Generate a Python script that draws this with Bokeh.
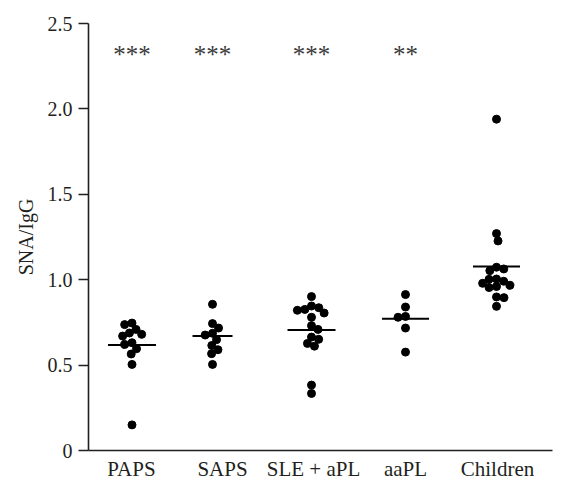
import math
from bokeh.plotting import figure
from bokeh.models import Range1d, FixedTicker, CustomJSTickFormatter, ColumnDataSource
from bokeh.embed import file_html
from bokeh.resources import INLINE
from bokeh.core.properties import value

# ---------------- data ----------------
categories = ["PAPS", "SAPS", "SLE + aPL", "aaPL", "Children"]
paps = [0.746, 0.737, 0.709, 0.688, 0.680, 0.670, 0.631, 0.621, 0.596, 0.565, 0.504, 0.150]
saps = [0.856, 0.743, 0.717, 0.686, 0.676, 0.649, 0.615, 0.590, 0.567, 0.504]
sle_apl = [0.901, 0.846, 0.836, 0.826, 0.821, 0.805, 0.780, 0.731, 0.709, 0.664,
           0.651, 0.627, 0.611, 0.383, 0.334]
aapl = [0.913, 0.840, 0.785, 0.780, 0.717, 0.576]
children = [1.940, 1.270, 1.227, 1.073, 1.063, 1.053, 1.004, 1.002, 0.991, 0.979,
            0.967, 0.960, 0.954, 0.899, 0.895, 0.844]
group_lines = [0.617, 0.670, 0.705, 0.772, 1.078]
significance = ["***", "***", "***", "**", ""]
y_ticks = [0, 0.5, 1.0, 1.5, 2.0, 2.5]

groups = [paps, saps, sle_apl, aapl, children]

# ---------------- layout ----------------
FRAME_W, FRAME_H = 464, 427
Y_MAX = 2.5
YS = FRAME_H / Y_MAX           # px per data unit
centers = [43.5, 124, 223, 317, 408]      # dot/line centres (x in px units)
label_pos = [43, 134, 225, 317, 409]      # tick label positions
line_half = [24, 20, 24, 23.5, 23.5]
SEP = 7.5
TEXT = "#231f20"
FONT = "Liberation Serif"


def swarm(vals, sep):
    order = sorted(range(len(vals)), key=lambda i: -vals[i])
    placed = []
    xs = [0.0] * len(vals)
    for k, i in enumerate(order):
        y = vals[i] * YS
        cands = [0.0]
        intervals = []
        for (px, py) in placed:
            dy = abs(y - py)
            if dy < sep:
                dx = math.sqrt(sep * sep - dy * dy)
                intervals.append((px - dx, px + dx))
                cands += [px - dx, px + dx]
        ok = [c for c in cands if all(not (a + 1e-6 < c < b - 1e-6) for a, b in intervals)]
        best = min(ok, key=lambda c: (round(abs(c), 3), c if k % 2 else -c))
        xs[i] = best
        placed.append((best, y))
    return xs


xs, ys = [], []
for c, vals in zip(centers, groups):
    offs = swarm(vals, SEP)
    xs += [c + o for o in offs]
    ys += list(vals)

p = figure(width=558, height=484, output_backend="svg", toolbar_location=None,
           x_range=Range1d(0, FRAME_W), y_range=Range1d(0, Y_MAX),
           min_border_left=88, min_border_right=6, min_border_top=23, min_border_bottom=34)
p.outline_line_color = None
p.grid.visible = False
p.background_fill_color = "white"

p.scatter(xs, ys, size=8, color="black")

lx0 = [c - h for c, h in zip(centers, line_half)]
lx1 = [c + h for c, h in zip(centers, line_half)]
p.segment(x0=lx0, y0=group_lines, x1=lx1, y1=group_lines, line_color="black", line_width=2)

star_src = ColumnDataSource(dict(x=centers, y=[2.318] * 5, t=significance))
p.text(x="x", y="y", text="t", source=star_src, text_font=value(FONT),
       text_font_size="25px", text_align="center", text_baseline="alphabetic",
       text_color="#3a3a3a")

# y axis
ya = p.yaxis[0]
ya.ticker = FixedTicker(ticks=y_ticks)
ya.formatter = CustomJSTickFormatter(code="return tick == 0 ? '0' : tick.toFixed(1);")
ya.major_tick_out = 10
ya.major_tick_in = 0
ya.minor_tick_line_color = None
ya.axis_line_width = 1.6
ya.major_tick_line_width = 1.6
ya.axis_line_color = TEXT
ya.major_tick_line_color = TEXT
ya.major_label_text_font = FONT
ya.major_label_text_font_size = "20px"
ya.major_label_text_color = TEXT
ya.major_label_standoff = 6
ya.axis_label = "SNA/IgG"
ya.axis_label_text_font = FONT
ya.axis_label_text_font_size = "20px"
ya.axis_label_text_font_style = "normal"
ya.axis_label_text_color = TEXT
ya.axis_label_standoff = 8

# x axis
xa = p.xaxis[0]
xa.ticker = FixedTicker(ticks=label_pos)
xa.major_label_overrides = {lp: c for lp, c in zip(label_pos, categories)}
xa.major_tick_out = 0
xa.major_tick_in = 0
xa.minor_tick_line_color = None
xa.axis_line_width = 1.6
xa.axis_line_color = TEXT
xa.major_label_text_font = FONT
xa.major_label_text_font_size = "21px"
xa.major_label_text_color = TEXT
xa.major_label_standoff = 6

open("out.html", "w").write(file_html(p, INLINE))
